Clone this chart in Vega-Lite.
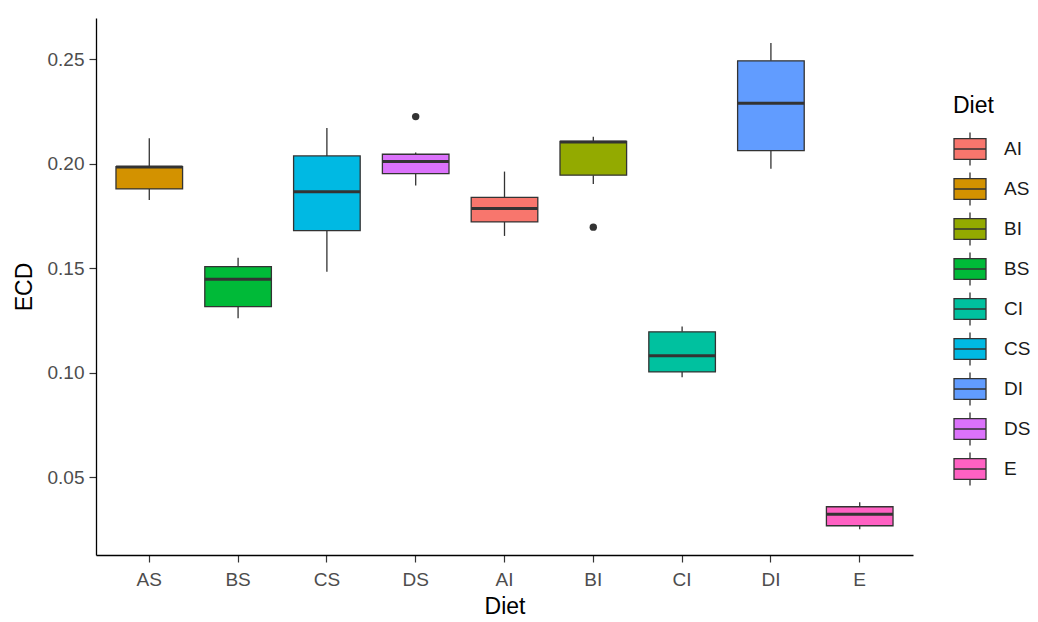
{
  "$schema": "https://vega.github.io/schema/vega-lite/v6.json",
  "width": 817,
  "height": 537,
  "autosize": {"type": "none"},
  "padding": {"left": 96, "top": 18, "right": 125, "bottom": 67},
  "background": "white",
  "config": {
    "view": {"stroke": null},
    "font": "Liberation Sans",
    "axis": {
      "domainColor": "#000000",
      "domainWidth": 1.3,
      "tickColor": "#333333",
      "tickWidth": 1.2,
      "tickSize": 7,
      "labelColor": "#4D4D4D",
      "labelFont": "Liberation Sans",
      "labelFontSize": 19,
      "titleFont": "Liberation Sans",
      "titleFontSize": 23,
      "titleFontWeight": "normal",
      "titleColor": "#000000",
      "grid": false
    },
    "legend": {
      "titleFont": "Liberation Sans",
      "titleFontSize": 23,
      "titleFontWeight": "normal",
      "titleColor": "#000000",
      "labelFont": "Liberation Sans",
      "labelFontSize": 19,
      "labelColor": "#1A1A1A"
    }
  },
  "datasets": {
    "boxes": [
      {"Diet": "AS", "lower": 0.1827, "q1": 0.188, "median": 0.1985, "q3": 0.1987, "upper": 0.2123},
      {"Diet": "BS", "lower": 0.1261, "q1": 0.1317, "median": 0.1448, "q3": 0.1508, "upper": 0.1551},
      {"Diet": "CS", "lower": 0.1484, "q1": 0.168, "median": 0.1867, "q3": 0.2038, "upper": 0.2171},
      {"Diet": "DS", "lower": 0.1896, "q1": 0.1953, "median": 0.2011, "q3": 0.2046, "upper": 0.2054},
      {"Diet": "AI", "lower": 0.1655, "q1": 0.1722, "median": 0.1786, "q3": 0.184, "upper": 0.1963},
      {"Diet": "BI", "lower": 0.1903, "q1": 0.1946, "median": 0.2105, "q3": 0.2107, "upper": 0.213},
      {"Diet": "CI", "lower": 0.0979, "q1": 0.1004, "median": 0.1082, "q3": 0.1196, "upper": 0.1221},
      {"Diet": "DI", "lower": 0.1976, "q1": 0.2063, "median": 0.229, "q3": 0.2493, "upper": 0.2578},
      {"Diet": "E", "lower": 0.0251, "q1": 0.0268, "median": 0.0323, "q3": 0.0359, "upper": 0.038}
    ],
    "outliers": [
      {"Diet": "DS", "ECD": 0.2226},
      {"Diet": "BI", "ECD": 0.1697}
    ]
  },
  "encoding": {
    "x": {
      "field": "Diet",
      "type": "nominal",
      "sort": ["AS", "BS", "CS", "DS", "AI", "BI", "CI", "DI", "E"],
      "scale": {"type": "band", "paddingInner": 0, "paddingOuter": 0.1},
      "axis": {"title": "Diet", "labelAngle": 0, "labelPadding": 8, "titlePadding": 6}
    }
  },
  "layer": [
    {
      "data": {"name": "boxes"},
      "mark": {"type": "rule", "color": "#333333", "strokeWidth": 1.3},
      "encoding": {
        "y": {"field": "lower", "type": "quantitative", "title": "ECD", "scale": {"domain": [0.0128, 0.2698], "nice": false, "zero": false}},
        "y2": {"field": "q1"}
      }
    },
    {
      "data": {"name": "boxes"},
      "mark": {"type": "rule", "color": "#333333", "strokeWidth": 1.3},
      "encoding": {
        "y": {"field": "q3", "type": "quantitative", "title": "ECD", "scale": {"domain": [0.0128, 0.2698], "nice": false, "zero": false}},
        "y2": {"field": "upper"}
      }
    },
    {
      "data": {"name": "boxes"},
      "mark": {"type": "bar", "width": {"band": 0.75}, "stroke": "#333333", "strokeWidth": 1.3, "opacity": 1},
      "encoding": {
        "y": {
          "field": "q1",
          "type": "quantitative",
          "title": "ECD",
          "scale": {"domain": [0.0128, 0.2698], "nice": false, "zero": false},
          "axis": {"title": "ECD", "values": [0.05, 0.1, 0.15, 0.2, 0.25], "format": ".2f", "labelPadding": 5, "titlePadding": 11}
        },
        "y2": {"field": "q3"},
        "color": {
          "field": "Diet",
          "type": "nominal",
          "sort": ["AI", "AS", "BI", "BS", "CI", "CS", "DI", "DS", "E"],
          "scale": {
            "domain": ["AI", "AS", "BI", "BS", "CI", "CS", "DI", "DS", "E"],
            "range": ["#F8766D", "#D39200", "#93AA00", "#00BA38", "#00C19F", "#00B9E3", "#619CFF", "#DB72FB", "#FF61C3"]
          },
          "legend": {
            "title": "Diet",
            "orient": "none",
            "legendX": 857,
            "legendY": 77,
            "padding": 0,
            "titlePadding": 14,
            "symbolType": "M-1,-0.65H1V0.65H-1Z M-1,0H1 M0,-0.65V-1.03 M0,0.65V1.03",
            "symbolSize": 1024,
            "symbolStrokeColor": "#333333",
            "symbolStrokeWidth": 1.3,
            "symbolOpacity": 1,
            "labelOffset": 17,
            "rowPadding": 0
          }
        }
      }
    },
    {
      "data": {"name": "boxes"},
      "mark": {"type": "tick", "orient": "horizontal", "thickness": 3, "size": 66.5, "color": "#333333", "opacity": 1},
      "encoding": {
        "y": {"field": "median", "type": "quantitative", "title": "ECD", "scale": {"domain": [0.0128, 0.2698], "nice": false, "zero": false}}
      }
    },
    {
      "data": {"name": "outliers"},
      "mark": {"type": "point", "filled": true, "color": "#333333", "size": 55, "opacity": 1},
      "encoding": {
        "y": {"field": "ECD", "type": "quantitative", "title": "ECD", "scale": {"domain": [0.0128, 0.2698], "nice": false, "zero": false}}
      }
    }
  ]
}
